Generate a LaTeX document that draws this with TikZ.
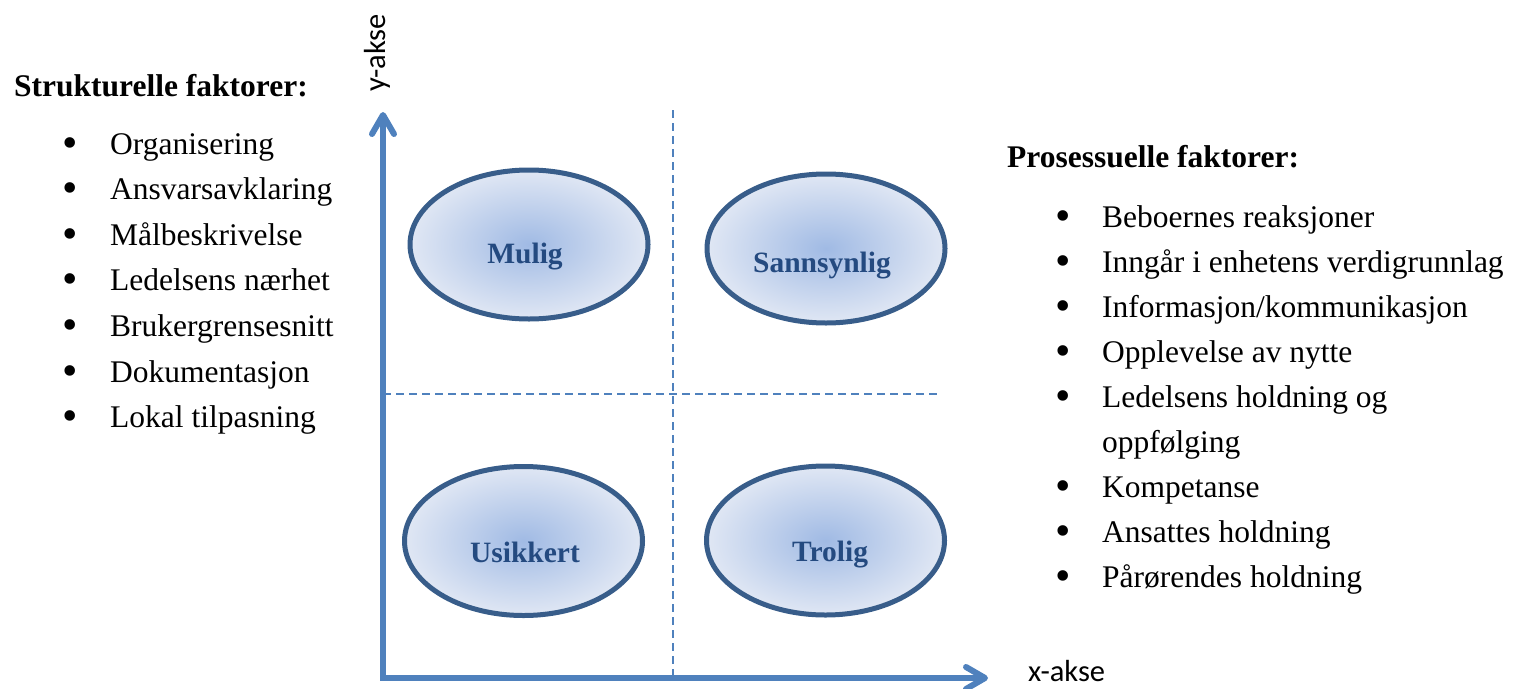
\documentclass[tikz,border=0pt]{standalone}
\usepackage{fontspec}
\setmainfont{Liberation Serif}
\newfontfamily\axisfont{Carlito}
\usetikzlibrary{shapes.geometric,arrows.meta}
\definecolor{axisblue}{RGB}{79,129,189}
\definecolor{rimblue}{RGB}{56,93,138}
\definecolor{textblue}{RGB}{36,74,128}
\definecolor{inblue}{RGB}{160,186,228}
\definecolor{outblue}{RGB}{224,231,244}

\begin{document}
\begin{tikzpicture}[x=1pt,y=-1pt,
  axisline/.style={line width=6pt,color=axisblue,line join=miter},
  gridline/.style={line width=2pt,color=axisblue,dash pattern=on 8pt off 5pt},
  zone/.style={ellipse,draw=rimblue,line width=5pt,inner color=inblue,outer color=outblue,minimum width=238pt,minimum height=149pt},
  zonelabel/.style={anchor=base,inner sep=0pt,text=textblue,font=\fontsize{29.5}{34}\selectfont\bfseries},
  axlabel/.style={inner sep=0pt,font=\axisfont\fontsize{30.5}{36}\selectfont},
  item/.style={anchor=base west,inner sep=0pt,font=\fontsize{31.5}{45}\selectfont},
  bul/.style={anchor=base,inner sep=0pt,font=\fontsize{44}{45}\selectfont}]
\useasboundingbox (0,0) rectangle (1525,688);

% axes
\coordinate (o) at (383,678);
\coordinate (ytip) at (383,112);
\coordinate (xtip) at (988,678);
\coordinate (vtop) at (673,110);
\coordinate (vbot) at (673,678);
\coordinate (hleft) at (383,394);
\coordinate (hright) at (937,394);
\draw[gridline] (vtop) -- (vbot);
\draw[gridline] (hleft) -- (hright);
\draw[axisline,{Straight Barb[length=19pt,width=22pt,round]}-{Straight Barb[length=19pt,width=22pt,round]}] (ytip) -- (o) -- (xtip);
\node[axlabel,rotate=90,anchor=base west] (ylab) at (385,92) {y-akse};
\node[axlabel,anchor=base west] (xlab) at (1028,681) {x-akse};

% the four zones
\node[zone] (mulig) at (529,244.5) {};
\node[zone] (sann) at (826,248.5) {};
\node[zone] (usikk) at (523.5,541) {};
\node[zone] (trolig) at (825.5,540.5) {};
\node[zonelabel] (tmulig) at (525,263) {Mulig};
\node[zonelabel] (tsann) at (822,272) {Sannsynlig};
\node[zonelabel] (tusikk) at (525,562) {Usikkert};
\node[zonelabel] (ttrolig) at (830,561) {Trolig};

% structural factors
\node[item] (shead) at (14,96) {\bfseries Strukturelle faktorer:};
\foreach \t [count=\i from 0] in {Organisering,Ansvarsavklaring,Målbeskrivelse,Ledelsens nærhet,Brukergrensesnitt,Dokumentasjon,Lokal tilpasning}
{
  \node[bul] (sb\i) at (70,157+45.6*\i) {•};
  \node[item] (s\i) at (110,154+45.6*\i) {\t};
}

% process factors
\node[item] (phead) at (1007,167) {\bfseries Prosessuelle faktorer:};
\foreach \l/\t in {0/Beboernes reaksjoner,1/Inngår i enhetens verdigrunnlag,2/{Informasjon/kommunikasjon},3/Opplevelse av nytte,4/Ledelsens holdning og,6/Kompetanse,7/Ansattes holdning,8/Pårørendes holdning}
{
  \node[bul] (pb\l) at (1063,230+45.1*\l) {•};
  \node[item] (p\l) at (1102,227+45.1*\l) {\t};
}
\node[item] (p5) at (1102,227+45.1*5) {oppfølging};
\end{tikzpicture}
\end{document}
